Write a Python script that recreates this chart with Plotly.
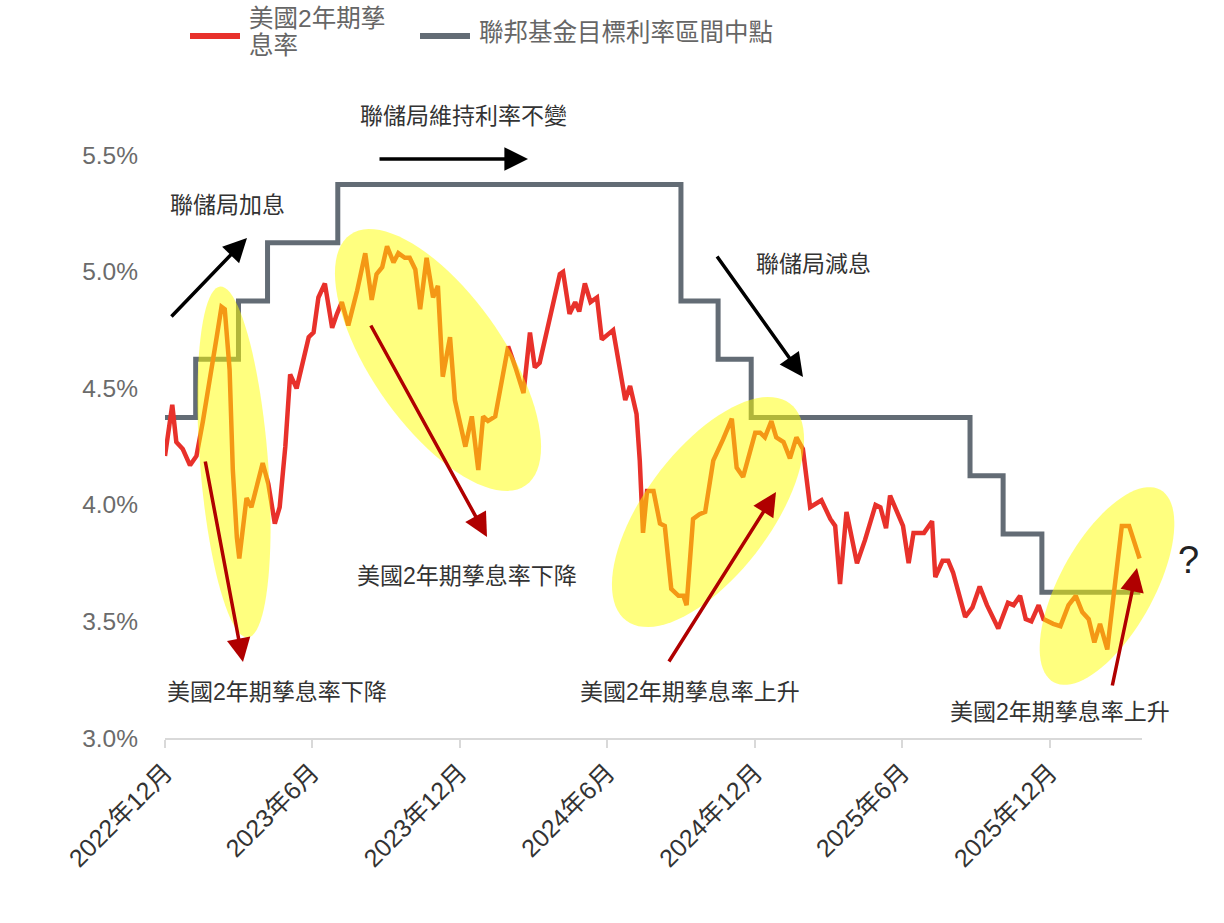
import numpy as np
import plotly.graph_objects as go

# ---------------- data ----------------
yield_dates = [
    "2022-12-01", "2022-12-10", "2022-12-15", "2022-12-23", "2023-01-01", "2023-01-09", "2023-01-17", "2023-01-26", "2023-02-03", "2023-02-09",
    "2023-02-13", "2023-02-19", "2023-02-23", "2023-02-28", "2023-03-03", "2023-03-12", "2023-03-18", "2023-04-01", "2023-04-08", "2023-04-16",
    "2023-04-22", "2023-04-29", "2023-05-05", "2023-05-13", "2023-05-28", "2023-06-03", "2023-06-09", "2023-06-17", "2023-06-26", "2023-07-02",
    "2023-07-08", "2023-07-16", "2023-07-27", "2023-08-06", "2023-08-14", "2023-08-20", "2023-08-27", "2023-09-02", "2023-09-10", "2023-09-16",
    "2023-09-24", "2023-09-30", "2023-10-07", "2023-10-13", "2023-10-21", "2023-10-29", "2023-11-04", "2023-11-10", "2023-11-19", "2023-11-25",
    "2023-12-08", "2023-12-16", "2023-12-24", "2023-12-30", "2024-01-05", "2024-01-14", "2024-01-30", "2024-02-08", "2024-02-18", "2024-02-26",
    "2024-03-03", "2024-03-09", "2024-03-22", "2024-04-03", "2024-04-07", "2024-04-15", "2024-04-22", "2024-04-27", "2024-05-04", "2024-05-11",
    "2024-05-19", "2024-05-25", "2024-06-08", "2024-06-23", "2024-06-29", "2024-07-07", "2024-07-11", "2024-07-15", "2024-07-20", "2024-07-28",
    "2024-08-05", "2024-08-11", "2024-08-19", "2024-08-28", "2024-09-03", "2024-09-07", "2024-09-15", "2024-09-23", "2024-09-30", "2024-10-10",
    "2024-10-22", "2024-11-02", "2024-11-08", "2024-11-16", "2024-12-01", "2024-12-07", "2024-12-13", "2024-12-21", "2024-12-27", "2025-01-05",
    "2025-01-13", "2025-01-21", "2025-01-29", "2025-02-07", "2025-02-21", "2025-03-04", "2025-03-10", "2025-03-16", "2025-03-24", "2025-04-06",
    "2025-04-16", "2025-04-29", "2025-05-05", "2025-05-12", "2025-05-17", "2025-05-26", "2025-06-02", "2025-06-09", "2025-06-15", "2025-06-28",
    "2025-07-08", "2025-07-12", "2025-07-21", "2025-07-28", "2025-08-03", "2025-08-18", "2025-08-27", "2025-09-05", "2025-09-14", "2025-09-28",
    "2025-10-10", "2025-10-17", "2025-10-25", "2025-11-01", "2025-11-08", "2025-11-17", "2025-11-23", "2025-12-05", "2025-12-14", "2025-12-24",
    "2026-01-02", "2026-01-10", "2026-01-18", "2026-01-25", "2026-02-01", "2026-02-10", "2026-02-28", "2026-03-09", "2026-03-22",
]
yield_values = [
    4.21, 4.43, 4.27, 4.24, 4.17, 4.21, 4.36, 4.54, 4.72, 4.85,
    4.84, 4.58, 4.15, 3.86, 3.77, 4.03, 3.99, 4.18, 4.09, 3.92,
    3.99, 4.25, 4.56, 4.50, 4.72, 4.74, 4.89, 4.95, 4.76, 4.82,
    4.87, 4.77, 4.92, 5.08, 4.88, 4.99, 5.02, 5.11, 5.04, 5.08,
    5.06, 5.06, 5.01, 4.84, 5.06, 4.89, 4.94, 4.55, 4.72, 4.45,
    4.25, 4.38, 4.15, 4.38, 4.36, 4.38, 4.68, 4.59, 4.48, 4.74,
    4.59, 4.61, 4.81, 4.99, 5.00, 4.82, 4.87, 4.83, 4.95, 4.87,
    4.89, 4.71, 4.75, 4.45, 4.51, 4.39, 4.19, 3.88, 4.06, 4.06,
    3.92, 3.91, 3.64, 3.61, 3.61, 3.57, 3.94, 3.96, 3.97, 4.19,
    4.28, 4.37, 4.16, 4.12, 4.31, 4.31, 4.29, 4.36, 4.29, 4.27,
    4.20, 4.29, 4.24, 3.99, 4.02, 3.94, 3.91, 3.66, 3.97, 3.75,
    3.85, 4.00, 3.99, 3.90, 4.04, 3.96, 3.91, 3.75, 3.88, 3.88,
    3.93, 3.69, 3.76, 3.76, 3.71, 3.52, 3.56, 3.65, 3.57, 3.47,
    3.58, 3.57, 3.61, 3.51, 3.50, 3.57, 3.51, 3.49, 3.48, 3.57,
    3.61, 3.54, 3.51, 3.41, 3.49, 3.38, 3.91, 3.91, 3.77,
]
fed_dates = ["2022-12-01", "2023-01-08", "2023-03-02", "2023-04-07", "2023-07-03", "2024-08-31",
             "2024-10-16", "2024-11-26", "2025-08-24", "2025-10-04", "2025-11-21", "2026-03-23"]
fed_values = [4.375, 4.625, 4.875, 5.125, 5.375, 4.875, 4.625, 4.375, 4.125, 3.875, 3.625, 3.625]

x_tick_dates = ["2022-12-01", "2023-06-01", "2023-12-01", "2024-06-01", "2024-12-01", "2025-06-01", "2025-12-01"]
x_tick_labels = ["2022年12月", "2023年6月", "2023年12月", "2024年6月", "2024年12月", "2025年6月", "2025年12月"]
y_tick_values = [3.0, 3.5, 4.0, 4.5, 5.0, 5.5]
y_tick_labels = ["3.0%", "3.5%", "4.0%", "4.5%", "5.0%", "5.5%"]

series_names = ["美國2年期孳息率", "聯邦基金目標利率區間中點"]
series_colors = ["#e8312b", "#636c75"]

# ---------------- layout geometry ----------------
W, H = 1224, 923
ML, MR, MT, MB = 165, 82, 132, 185
PW, PH = W - ML - MR, H - MT - MB
FONT = "Liberation Sans, Noto Sans CJK TC, sans-serif"


def px_x(px):
    return (px - ML) / PW


def px_y(py):
    return (H - MB - py) / PH


def ellipse_path(cx, cy, a, b, theta_deg, n=90):
    th = np.radians(theta_deg)
    t = np.linspace(0, 2 * np.pi, n, endpoint=False)
    xs = cx + a * np.cos(t) * np.cos(th) - b * np.sin(t) * np.sin(th)
    ys = cy + a * np.cos(t) * np.sin(th) + b * np.sin(t) * np.cos(th)
    pts = [f"{px_x(x):.5f},{px_y(y):.5f}" for x, y in zip(xs, ys)]
    return "M" + " L".join(pts) + " Z"


fig = go.Figure()
fig.add_trace(go.Scatter(
    x=fed_dates, y=fed_values, mode="lines", name=series_names[1],
    line=dict(color=series_colors[1], width=5, shape="hv"), showlegend=False,
))
fig.add_trace(go.Scatter(
    x=yield_dates, y=yield_values, mode="lines", name=series_names[0],
    line=dict(color=series_colors[0], width=4.5), showlegend=False,
))

# highlight ellipses (semi-transparent yellow over the lines)
ellipses = [
    (234, 462, 176, 34, 85.5),
    (438, 360, 153, 66, 55),
    (708, 512, 136, 63, -53),
    (1107, 586, 110, 47, -61),
]
shapes = []
for cx, cy, a, b, th in ellipses:
    shapes.append(dict(type="path", xref="paper", yref="paper", path=ellipse_path(cx, cy, a, b, th),
                       fillcolor="rgba(255,255,0,0.5)", line=dict(width=0), layer="above"))

# legend (drawn by hand to match the original's layout)
legend_swatches = [(190, 240, 36, series_colors[0]), (420, 470, 36, series_colors[1])]
for x0, x1, y0, col in legend_swatches:
    shapes.append(dict(type="line", xref="paper", yref="paper", x0=px_x(x0), x1=px_x(x1),
                       y0=px_y(y0), y1=px_y(y0), line=dict(color=col, width=6)))

annotations = []
legend_texts = [("美國2年期孳", 247, 18), ("息率", 247, 46), (series_names[1], 477, 32)]
for t, x, y in legend_texts:
    annotations.append(dict(x=px_x(x), y=px_y(y), xref="paper", yref="paper", text=t, showarrow=False,
                            xanchor="left", yanchor="middle",
                            font=dict(family=FONT, size=24.5, color="#666666")))

# arrows: (tail x, tail y, head x, head y, colour)
arrows = [
    (170, 318, 247, 238, "#000000"),
    (378, 159, 528, 159, "#000000"),
    (716, 255, 803, 377, "#000000"),
    (205, 460, 243, 662, "#b00000"),
    (370, 324, 487, 537, "#b00000"),
    (668, 663, 776, 492, "#b00000"),
    (1112, 687, 1137, 568, "#b00000"),
]
for tx, ty, hx, hy, col in arrows:
    annotations.append(dict(x=px_x(hx), y=px_y(hy), xref="paper", yref="paper",
                            ax=tx - hx, ay=ty - hy, axref="pixel", ayref="pixel",
                            showarrow=True, arrowhead=2, arrowsize=1.35, arrowwidth=3.5,
                            arrowcolor=col, text="", standoff=0, startstandoff=0))

texts = [
    ("聯儲局加息", 227, 205),
    ("聯儲局維持利率不變", 463, 116),
    ("聯儲局減息", 813, 264),
    ("美國2年期孳息率下降", 277, 692),
    ("美國2年期孳息率下降", 467, 576),
    ("美國2年期孳息率上升", 690, 692),
    ("美國2年期孳息率上升", 1060, 712),
]
for t, x, y in texts:
    annotations.append(dict(x=px_x(x), y=px_y(y), xref="paper", yref="paper", text=t, showarrow=False,
                            xanchor="center", yanchor="middle",
                            font=dict(family=FONT, size=23, color="#333333")))
annotations.append(dict(x=px_x(1188), y=px_y(560), xref="paper", yref="paper", text="?", showarrow=False,
                        xanchor="center", yanchor="middle",
                        font=dict(family=FONT, size=38, color="#222222")))

fig.update_layout(
    width=W, height=H, autosize=False,
    margin=dict(l=ML, r=MR, t=MT, b=MB, pad=0),
    paper_bgcolor="white", plot_bgcolor="white",
    font=dict(family=FONT, color="#333333"),
    showlegend=False,
    shapes=shapes, annotations=annotations,
    xaxis=dict(type="date", range=["2022-12-01", "2026-03-25"],
               tickmode="array", tickvals=x_tick_dates, ticktext=x_tick_labels,
               tickangle=-45, tickfont=dict(family=FONT, size=25, color="#333333"),
               showgrid=False, zeroline=False, showline=True, linecolor="#d9d9d9", linewidth=2,
               ticks="outside", ticklen=8, tickwidth=2, tickcolor="#d9d9d9"),
    yaxis=dict(range=[3.0, 5.6], tickmode="array", tickvals=y_tick_values, ticktext=y_tick_labels,
               tickfont=dict(family=FONT, size=24.5, color="#6b6b6b"),
               showgrid=False, zeroline=False, showline=False, ticks="", ticklabelstandoff=26),
)

fig.write_html("out.html")
